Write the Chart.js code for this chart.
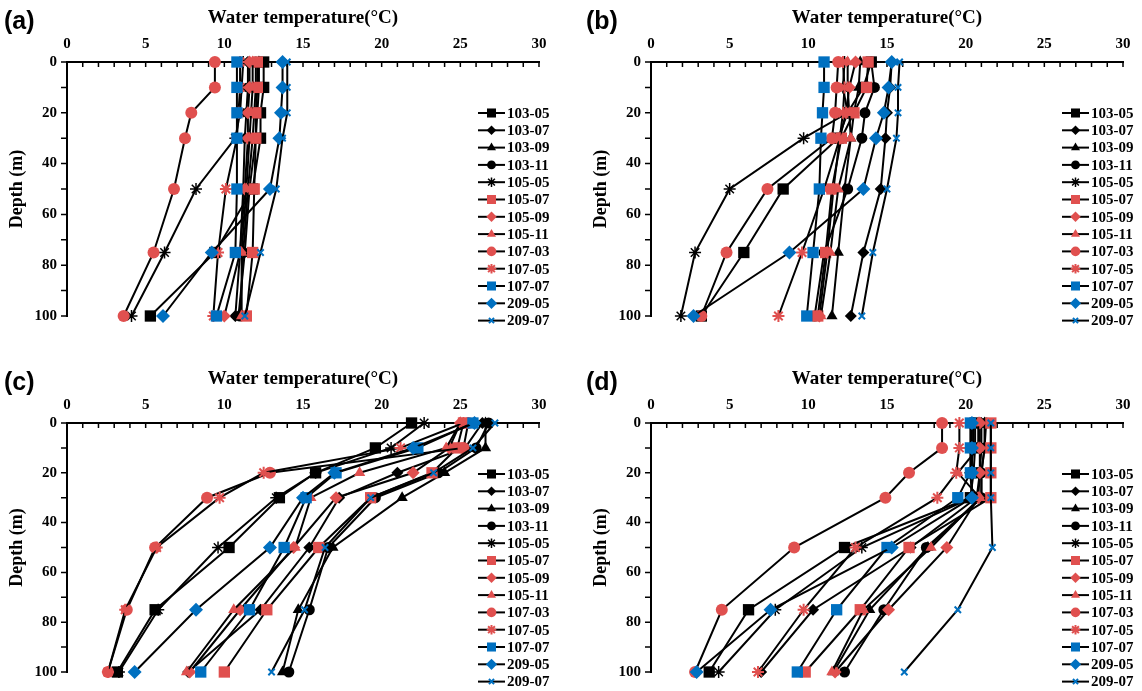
<!DOCTYPE html>
<html>
<head>
<meta charset="utf-8">
<script src="https://cdn.jsdelivr.net/npm/chart.js@4.4.1/dist/chart.umd.min.js"></script>
<style>
  body { margin: 0; background: #fff; width: 1142px; height: 691px; position: relative; overflow: hidden; }
  .panel { position: absolute; }
  .tag { position: absolute; font: bold 25px "Liberation Sans", Arial, sans-serif; color: #000; }
</style>
</head>
<body>
<div class="panel" style="left:0;top:0"><canvas id="chartA" width="558" height="361"></canvas></div>
<div class="panel" style="left:584px;top:0"><canvas id="chartB" width="558" height="361"></canvas></div>
<div class="panel" style="left:0;top:361px"><canvas id="chartC" width="558" height="330"></canvas></div>
<div class="panel" style="left:584px;top:361px"><canvas id="chartD" width="558" height="330"></canvas></div>
<div class="tag" style="left:4px;top:6px">(a)</div>
<div class="tag" style="left:586px;top:6px">(b)</div>
<div class="tag" style="left:4px;top:367px">(c)</div>
<div class="tag" style="left:586px;top:367px">(d)</div>

<script>
// sampling depths (m) and survey names
const depths = [0, 10, 20, 30, 50, 75, 100];
const seriesNames = ['103-05', '103-07', '103-09', '103-11', '105-05', '105-07', '105-09',
                     '105-11', '107-03', '107-05', '107-07', '209-05', '209-07'];
const tempTicks = [0, 5, 10, 15, 20, 25, 30];
const depthTicks = [0, 20, 40, 60, 80, 100];

// water temperature per series (rows follow seriesNames), one row per depth list
const tempA = [
  [12.5, 12.5, 12.3, 12.3, 11.8, 9.4, 5.3],
  [11.5, 11.5, 11.4, 11.3, 11.2, 11.0, 10.7],
  [12.2, 12.2, 12.1, 12.0, 11.6, 11.3, 10.9],
  [12.0, 12.0, 11.9, 11.8, 11.5, 11.2, 11.0],
  [11.2, 11.1, 11.0, 10.7, 8.2, 6.2, 4.1],
  [12.1, 12.1, 12.0, 12.0, 11.9, 11.8, 11.4],
  [11.6, 11.6, 11.5, 11.5, 11.3, 11.0, 10.0],
  [11.8, 11.8, 11.7, 11.6, 11.4, 11.1, 11.1],
  [9.4, 9.4, 7.9, 7.5, 6.8, 5.5, 3.6],
  [11.0, 11.0, 10.9, 10.8, 10.1, 9.6, 9.3],
  [10.8, 10.8, 10.8, 10.8, 10.8, 10.7, 9.5],
  [13.7, 13.7, 13.6, 13.5, 12.9, 9.2, 6.1],
  [14.0, 14.0, 14.0, 13.7, 13.3, 12.3, 11.3]
];
const tempB = [
  [14.0, 13.5, 12.5, 11.9, 8.4, 5.9, 3.2],
  [15.3, 15.2, 15.0, 14.9, 14.6, 13.5, 12.7],
  [13.3, 13.2, 12.9, 12.7, 12.3, 11.9, 11.5],
  [14.0, 14.2, 13.6, 13.4, 12.5, 11.0, 10.4],
  [12.3, 12.2, 12.5, 9.7, 5.0, 2.8, 1.9],
  [13.8, 13.7, 12.9, 12.1, 11.5, 11.1, 10.6],
  [13.0, 12.6, 12.4, 12.0, 11.6, 11.2, 10.7],
  [12.5, 12.5, 12.6, 12.7, 11.9, 11.4, 10.8],
  [11.9, 11.8, 11.7, 11.5, 7.4, 4.8, 3.2],
  [12.2, 12.3, 12.2, 12.0, 11.0, 9.6, 8.1],
  [11.0, 11.0, 10.9, 10.8, 10.7, 10.3, 9.9],
  [15.3, 15.1, 14.8, 14.3, 13.5, 8.8, 2.7],
  [15.8, 15.7, 15.7, 15.6, 15.0, 14.1, 13.4]
];
const tempC = [
  [21.9, 19.6, 15.8, 13.5, 10.3, 5.6, 3.2],
  [26.4, 25.3, 21.0, 17.3, 15.4, 12.3, 7.7],
  [26.6, 26.6, 24.0, 21.3, 16.9, 14.7, 13.7],
  [26.8, 26.0, 23.6, 19.6, 16.6, 15.4, 14.1],
  [22.7, 20.6, 15.8, 13.3, 9.6, 5.8, 3.3],
  [25.2, 24.8, 23.2, 19.3, 16.0, 12.7, 10.0],
  [25.0, 24.3, 22.0, 17.1, 14.4, 11.0, 7.8],
  [25.0, 24.1, 18.6, 15.5, 14.5, 10.6, 7.6],
  [25.5, 25.2, 12.9, 8.9, 5.6, 3.8, 2.6],
  [25.2, 21.2, 12.5, 9.7, 5.7, 3.7, 2.6],
  [25.8, 22.3, 17.1, 15.2, 13.8, 11.6, 8.5],
  [25.9, 22.0, 17.0, 15.0, 12.9, 8.2, 4.3],
  [27.2, 25.8, 23.3, 19.3, 16.4, 15.1, 13.0]
];
const tempD = [
  [20.6, 20.6, 20.5, 20.3, 12.3, 6.2, 3.7],
  [21.0, 21.0, 20.9, 20.7, 16.5, 10.3, 7.0],
  [21.2, 21.2, 21.0, 21.0, 17.6, 13.9, 11.6],
  [21.3, 21.2, 21.0, 21.0, 17.5, 14.8, 12.3],
  [20.5, 20.5, 20.3, 20.4, 13.4, 7.9, 4.3],
  [21.6, 21.6, 21.6, 21.6, 16.4, 13.3, 9.8],
  [20.9, 20.9, 20.9, 20.8, 18.8, 15.1, 11.7],
  [20.8, 20.8, 19.5, 20.9, 17.8, 13.5, 11.5],
  [18.5, 18.5, 16.4, 14.9, 9.1, 4.5, 2.8],
  [19.6, 19.6, 19.4, 18.2, 13.0, 9.7, 6.8],
  [20.3, 20.3, 20.3, 19.5, 15.0, 11.8, 9.3],
  [20.4, 20.4, 20.4, 20.4, 15.3, 7.6, 2.9],
  [21.6, 21.6, 21.6, 21.6, 21.7, 19.5, 16.1]
];

const RED = '#E0504F', BLUE = '#0070C0', BLACK = '#000000';
const SERIF = '"Liberation Serif", "Times New Roman", serif';

const markers = [
  { color: BLACK, style: 'rect', r: 8, bw: 0 },
  { color: BLACK, style: 'rectRot', r: 6, bw: 0 },
  { color: BLACK, style: 'triangle', r: 6.5, bw: 0 },
  { color: BLACK, style: 'circle', r: 5.5, bw: 0 },
  { color: BLACK, style: 'star', r: 6, bw: 1.5 },
  { color: RED, style: 'rect', r: 8, bw: 0 },
  { color: RED, style: 'rectRot', r: 6.5, bw: 0 },
  { color: RED, style: 'triangle', r: 6.5, bw: 0 },
  { color: RED, style: 'circle', r: 6, bw: 0 },
  { color: RED, style: 'star', r: 6, bw: 2 },
  { color: BLUE, style: 'rect', r: 8, bw: 0 },
  { color: BLUE, style: 'rectRot', r: 7, bw: 0 },
  { color: BLUE, style: 'crossRot', r: 4.5, bw: 2 }
];

// small tick marks: inward on the temperature axis, outward on depth axis
const tickMarks = {
  id: 'tickMarks',
  beforeDatasetsDraw(chart) {
    const { ctx, chartArea, scales: { x, y } } = chart;
    ctx.save();
    ctx.strokeStyle = '#000';
    ctx.lineWidth = 1.5;
    ctx.beginPath();
    for (let v = 0; v <= 30; v++) {
      const px = x.getPixelForValue(v);
      ctx.moveTo(px, chartArea.top);
      ctx.lineTo(px, chartArea.top + 5);
    }
    for (let v = 0; v <= 100; v += 10) {
      const py = y.getPixelForValue(v);
      ctx.moveTo(chartArea.left - 6, py);
      ctx.lineTo(chartArea.left, py);
    }
    ctx.stroke();
    ctx.restore();
  }
};

// legend inside the plot, lower right
const sideLegend = {
  id: 'sideLegend',
  afterDraw(chart) {
    const ctx = chart.ctx;
    ctx.save();
    chart.data.datasets.forEach((ds, i) => {
      const y = 113 + i * 17.3;
      ctx.strokeStyle = '#000';
      ctx.lineWidth = 2;
      ctx.beginPath();
      ctx.moveTo(478, y);
      ctx.lineTo(505, y);
      ctx.stroke();
      ctx.fillStyle = ds.pointBackgroundColor;
      ctx.strokeStyle = ds.pointBorderColor;
      ctx.lineWidth = ds.pointBorderWidth;
      Chart.helpers.drawPoint(ctx, {
        pointStyle: ds.pointStyle, radius: ds.pointRadius * 0.8,
        rotation: 0, borderWidth: ds.pointBorderWidth
      }, 491.5, y);
      ctx.fillStyle = '#000';
      ctx.font = 'bold 15px ' + SERIF;
      ctx.textBaseline = 'middle';
      ctx.textAlign = 'left';
      ctx.fillText(ds.label, 507, y + 1);
    });
    ctx.restore();
  }
};

function makePanel(id, temps, areaBottom) {
  const canvas = document.getElementById(id);
  return new Chart(canvas, {
    type: 'scatter',
    data: {
      datasets: seriesNames.map((name, i) => ({
        label: name,
        data: depths.map((d, k) => ({ x: temps[i][k], y: d })),
        // later series sit on top, as in the source figure
        order: seriesNames.length - i,
        showLine: true,
        borderColor: '#000',
        borderWidth: 2,
        pointStyle: markers[i].style,
        pointRadius: markers[i].r,
        pointHoverRadius: markers[i].r,
        pointBackgroundColor: markers[i].color,
        pointBorderColor: markers[i].color,
        pointBorderWidth: markers[i].bw,
        clip: false
      }))
    },
    options: {
      responsive: false,
      animation: false,
      events: [],
      layout: { padding: { left: 0, top: 0, right: canvas.width - 539, bottom: canvas.height - areaBottom } },
      plugins: { legend: { display: false }, tooltip: { enabled: false } },
      scales: {
        x: {
          type: 'linear',
          position: 'top',
          min: 0, max: 30,
          afterBuildTicks: s => { s.ticks = tempTicks.map(v => ({ value: v })); },
          afterFit: s => { s.height = 62; },
          grid: { drawOnChartArea: false, drawTicks: false },
          border: { color: '#000', width: 2 },
          ticks: { color: '#000', padding: 9, maxRotation: 0, font: { family: SERIF, weight: 'bold', size: 15 } },
          title: {
            display: true, text: 'Water temperature(°C)', color: '#000',
            font: { family: SERIF, weight: 'bold', size: 19 }, padding: { top: 7, bottom: 0 }
          }
        },
        y: {
          type: 'linear',
          position: 'left',
          reverse: true,
          min: 0, max: 100,
          afterBuildTicks: s => { s.ticks = depthTicks.map(v => ({ value: v })); },
          afterFit: s => { s.width = 67; },
          grid: { drawOnChartArea: false, drawTicks: false },
          border: { color: '#000', width: 2 },
          ticks: { color: '#000', padding: 10, font: { family: SERIF, weight: 'bold', size: 15 } },
          title: {
            display: true, text: 'Depth (m)', color: '#000',
            font: { family: SERIF, weight: 'bold', size: 18 }, padding: { top: 7, bottom: 0 }
          }
        }
      }
    },
    plugins: [tickMarks, sideLegend]
  });
}

makePanel('chartA', tempA, 316);
makePanel('chartB', tempB, 316);
makePanel('chartC', tempC, 318);
makePanel('chartD', tempD, 318);
</script>
</body>
</html>
